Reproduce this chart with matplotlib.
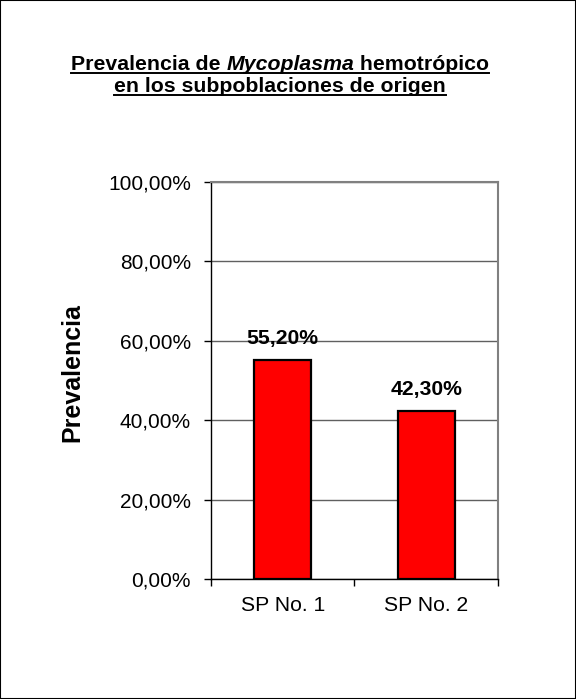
import matplotlib.pyplot as plt
from matplotlib.patches import Rectangle
from matplotlib.lines import Line2D

# Data
categories = ['SP No. 1', 'SP No. 2']
prevalence = [0.552, 0.423]
value_labels = ['55,20%', '42,30%']
y_ticks = [0.0, 0.2, 0.4, 0.6, 0.8, 1.0]
y_tick_labels = ['0,00%', '20,00%', '40,00%', '60,00%', '80,00%', '100,00%']

plt.rcParams['font.family'] = ['Liberation Sans', 'DejaVu Sans']

fig = plt.figure(figsize=(5.76, 6.99), dpi=100)
fig.patches.append(Rectangle((0, 0), 1, 1, transform=fig.transFigure,
                             fill=False, edgecolor='black', lw=1.5))
W, H = fig.bbox.width, fig.bbox.height

ax = fig.add_axes([0.3663, 0.1717, 0.4983, 0.5679])
x = list(range(len(categories)))
ax.bar(x, prevalence, width=0.4, color='#FF0000', edgecolor='black', lw=1.6, zorder=3)

for xi, v, lab in zip(x, prevalence, value_labels):
    ax.annotate(lab, (xi, v), xytext=(0, 8.5), textcoords='offset points',
                ha='center', va='bottom', fontsize=15.2, fontweight='bold')

ax.set_xlim(-0.5, len(categories) - 0.5)
ax.set_ylim(0, 1)
ax.set_yticks(y_ticks)
ax.set_yticklabels(y_tick_labels, fontsize=15)
ax.set_xticks(x)
ax.set_xticklabels(categories, fontsize=15.2)
ax.set_xticks([-0.5, 0.5, 1.5], minor=True)
ax.tick_params(axis='x', which='major', length=0, pad=12)
ax.tick_params(axis='x', which='minor', length=5, width=1, direction='out')
ax.tick_params(axis='y', length=5, width=1, direction='out', pad=9.5)
ax.yaxis.grid(True, color='#606060', lw=1, zorder=0)
ax.set_axisbelow(True)
for s in ['top', 'right']:
    ax.spines[s].set_color('#808080')
    ax.spines[s].set_linewidth(1.5)
for s in ['left', 'bottom']:
    ax.spines[s].set_color('black')
    ax.spines[s].set_linewidth(1)

fig.text(72 / W, 1 - 373 / H, 'Prevalencia', rotation=90, ha='center', va='center',
         fontsize=18, fontweight='bold')

# Title with italic word and underline
fig.canvas.draw()
renderer = fig.canvas.get_renderer()
cx = 280 / W
tsize = 15.3

def underline(texts):
    bbs = [t.get_window_extent(renderer) for t in texts]
    x0 = min(b.x0 for b in bbs)
    x1 = max(b.x1 for b in bbs)
    y0 = min(b.y0 for b in bbs)
    fig.add_artist(Line2D([x0 / W, x1 / W], [(y0 + 1) / H, (y0 + 1) / H],
                          transform=fig.transFigure, color='black', lw=1.4))

parts = [('Prevalencia de ', 'normal'), ('Mycoplasma', 'italic'), (' hemotrópico', 'normal')]
texts = []
for s, style in parts:
    t = fig.text(0, 0, s, fontsize=tsize, fontweight='bold', fontstyle=style, va='baseline')
    texts.append(t)
fig.canvas.draw()
widths = [t.get_window_extent(renderer).width for t in texts]
total = sum(widths)
xs = cx * W - total / 2
y1 = 1 - 69.5 / H
for t, w in zip(texts, widths):
    t.set_position((xs / W, y1))
    xs += w
fig.canvas.draw()
underline(texts)

t2 = fig.text(cx, 1 - 91.5 / H, 'en los subpoblaciones de origen', fontsize=tsize,
              fontweight='bold', ha='center', va='baseline')
fig.canvas.draw()
underline([t2])

fig.savefig('out.png', dpi=100)
